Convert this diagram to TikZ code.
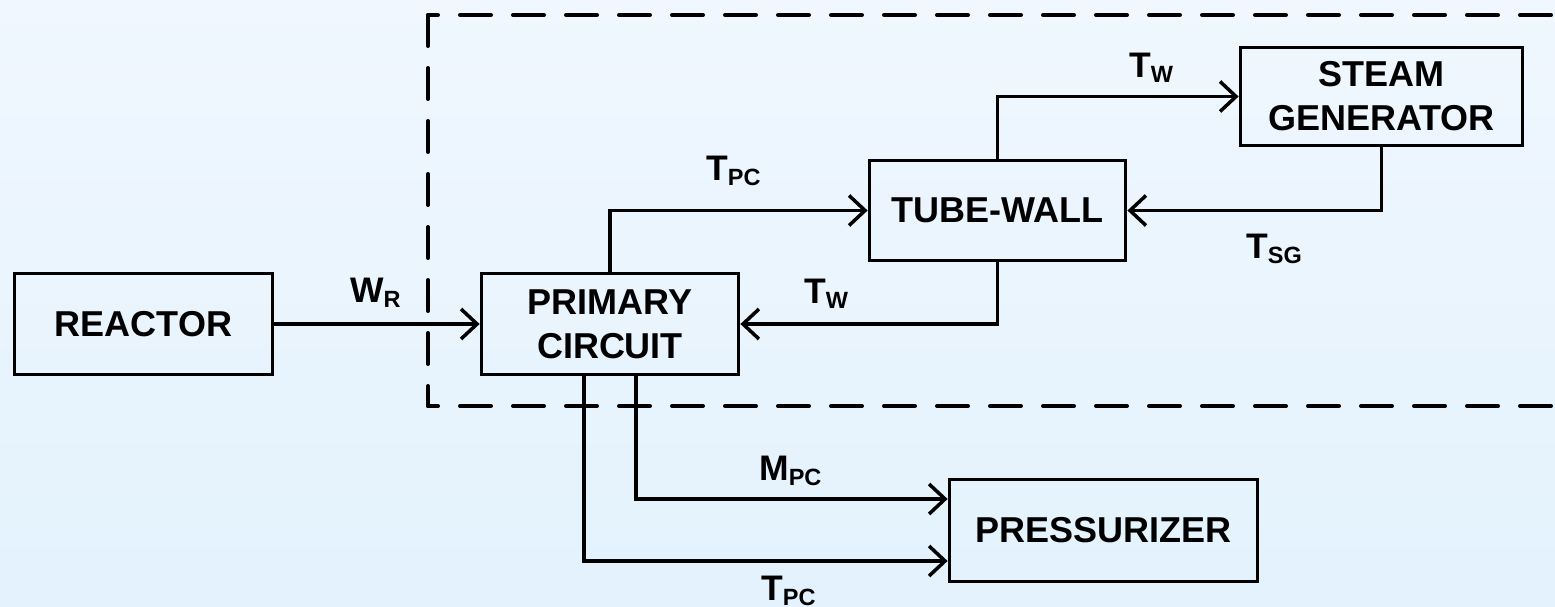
\documentclass[tikz,border=0pt]{standalone}
\usepackage{fontspec}
\setmainfont{Liberation Sans}
\usetikzlibrary{arrows.meta,calc}
\definecolor{bgtop}{RGB}{240,247,254}
\definecolor{bgbot}{RGB}{227,242,253}
\newcommand\sublbl[2]{#1\raisebox{-5pt}{\fontsize{23.5pt}{23.5pt}\selectfont #2}}
\tikzset{
  blockbox/.style={draw=black, line width=3.8pt, fill=none, align=center,
    font=\fontsize{36pt}{44pt}\selectfont\bfseries, inner sep=0pt},
  arr/.style={draw=black, line width=3.5pt, line join=miter,
    -{Straight Barb[length=16pt,width=30pt,line width=3.5pt]}},
  lbl/.style={inner sep=0pt, anchor=base west, font=\fontsize{35.5pt}{35.5pt}\selectfont\bfseries},
  dashline/.style={draw=black, line width=4pt, line cap=round, dash pattern=on 31pt off 22pt}
}
\begin{document}
\begin{tikzpicture}[x=1pt,y=-1pt]
\useasboundingbox (0,0) rectangle (1555,606);
\clip (0,0) rectangle (1555,606);
\shade[top color=bgtop, bottom color=bgbot] (0,0) rectangle (1555,606);

% dashed boundary
\draw[dashline, dash phase=21pt] (428,15) -- (1600,15);
\draw[dashline] (428,15) -- (428,406);
\draw[dashline, dash phase=21pt] (428,406) -- (1600,406);

% blocks
\node[blockbox, minimum width=258pt, minimum height=101pt] (reactor) at (143.5,324) {REACTOR};
\node[blockbox, minimum width=257pt, minimum height=101pt] (pc) at (610,324) {PRIMARY\\CIRCUIT};
\node[blockbox, minimum width=256pt, minimum height=100pt] (tw) at (997.5,210.5) {TUBE-WALL};
\node[blockbox, minimum width=282pt, minimum height=98pt] (sg) at (1381.5,96.5) {STEAM\\GENERATOR};
\node[blockbox, minimum width=308pt, minimum height=102pt] (pz) at (1103.5,530.5) {PRESSURIZER};

% connectors
\draw[arr] (reactor) -- (pc);
\draw[arr] (pc.north) |- (tw.west);
\draw[arr] (tw.north) |- (sg.west);
\draw[arr] (sg.south) |- (tw.east);
\draw[arr] (tw.south) |- (pc.east);
\draw[arr] ([xshift=26pt]pc.south) |- ([yshift=31.5pt]pz.west);
\draw[arr] ([xshift=-26pt]pc.south) |- ([yshift=-30.5pt]pz.west);

% labels
\node[lbl] (lwr) at (350,302) {\sublbl{W}{R}};
\node[lbl] (ltpc1) at (706,180) {\sublbl{T}{PC}};
\node[lbl] (ltw1) at (1129,77) {\sublbl{T}{W}};
\node[lbl] (ltsg) at (1246,258) {\sublbl{T}{SG}};
\node[lbl] (ltw2) at (804,303) {\sublbl{T}{W}};
\node[lbl] (lmpc) at (759,480) {\sublbl{M}{PC}};
\node[lbl] (ltpc2) at (761,600) {\sublbl{T}{PC}};
\end{tikzpicture}
\end{document}
